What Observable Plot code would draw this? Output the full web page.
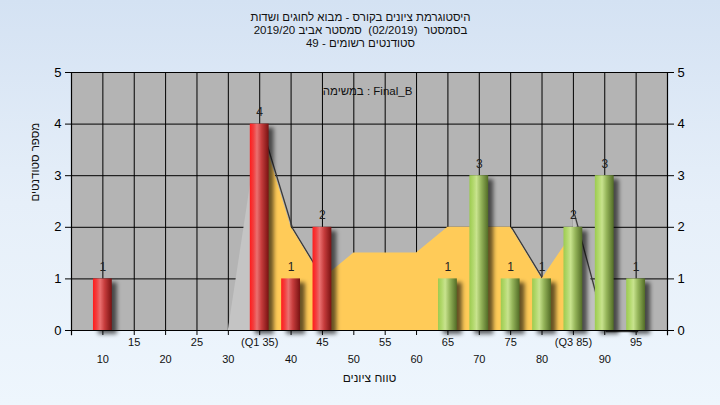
<!DOCTYPE html>
<html>
<head>
<meta charset="utf-8">
<script src="https://cdn.jsdelivr.net/npm/d3@7"></script>
<script src="https://cdn.jsdelivr.net/npm/@observablehq/plot@0.6"></script>
<style>
  html, body { margin: 0; padding: 0; }
  body { width: 720px; height: 405px; overflow: hidden;
         background: linear-gradient(to bottom, #d4e2f3 0%, #e6eff9 50%, #eef6fd 100%); }
  #chart svg { display: block; }
</style>
</head>
<body>
<div id="chart"></div>
<script>
// ---- data ----
const titleLines = [
  "היסטוגרמת ציונים בקורס - מבוא לחוגים ושדות",
  "בסמסטר  (02/2019)  סמסטר אביב 2019/20",
  "סטודנטים רשומים - 49"
];
const legendText = "במשימה : Final_B";
const yTitle = "מספר סטודנטים";
const xTitle = "טווח ציונים";

const binCenters = [10, 35, 40, 45, 65, 70, 75, 80, 85, 90, 95];
const binCounts  = [1, 4, 1, 2, 1, 3, 1, 1, 2, 3, 1];
const binTone    = ["red","red","red","red","green","green","green","green","green","green","green"];

// smoothed distribution outline (area), split into lower tail / inter-quartile / upper tail
const lowTailX = [30, 35];
const lowTailY = [0, 4];
const midX = [35, 40, 45, 50, 55, 60, 65, 70, 75, 80, 85];
const midY = [4, 2, 1, 1.5, 1.5, 1.5, 2, 2, 2, 1, 1.9];
const highTailX = [85, 90, 95];
const highTailY = [2.25, 0, 0];

const xTickMarks = d3.range(5, 101, 5);
const xTickValues = [10,15,20,25,30,35,40,45,50,55,60,65,70,75,80,85,90,95];
const xTickLabels = ["10","15","20","25","30","(Q1 35)","40","45","50","55","60","65","70","75","80","(Q3 85)","90","95"];
const yTicks = [0, 1, 2, 3, 4, 5];

// ---- tables built from the arrays ----
const bars = binCenters.map((b, i) => ({bin: b, count: binCounts[i], tone: binTone[i]}));
const lowTail = lowTailX.map((x, i) => ({x, y: lowTailY[i]}));
const mid = midX.map((x, i) => ({x, y: midY[i]}));
const highTail = highTailX.map((x, i) => ({x, y: highTailY[i]}));
const xLabels = xTickValues.map((v, i) => ({v, label: xTickLabels[i], row: i % 2 === 0 ? "low" : "up"}));
const halfBar = 1.5;

const font = "'Liberation Sans', Arial, sans-serif";

const chart = Plot.plot({
  width: 720,
  height: 405,
  marginLeft: 71,
  marginRight: 53,
  marginTop: 72,
  marginBottom: 75,
  style: {background: "transparent", color: "black", fontFamily: font, fontSize: "13px"},
  x: {domain: [5, 100], ticks: xTickMarks, tickFormat: () => "", tickSize: 5, label: null},
  y: {domain: [0, 5], ticks: yTicks, tickFormat: d => String(d), tickSize: 6, tickPadding: 4, label: null, axis: "both"},
  marks: [
    Plot.frame({fill: "#b4b4b4", stroke: "none"}),
    // grid
    Plot.ruleX(xTickValues, {stroke: "black", strokeWidth: 1}),
    Plot.ruleY(yTicks.slice(1), {stroke: "black", strokeWidth: 1}),
    // area edge shadows
    Plot.lineY(mid, {x: "x", y: "y", stroke: "#3a3a3a", strokeWidth: 1.3, dx: 1.5, dy: 1}),
    Plot.lineY(highTail, {x: "x", y: "y", stroke: "#3a3a3a", strokeWidth: 1.3, dx: 1.5, dy: 1}),
    // areas
    Plot.areaY(lowTail, {x: "x", y: "y", fill: "#c4c4c4"}),
    Plot.areaY(highTail, {x: "x", y: "y", fill: "#c1c1c1"}),
    Plot.areaY(mid, {x: "x", y: "y", fill: "#ffcb58"}),
    // axis lines
    Plot.ruleY([0], {stroke: "black", strokeWidth: 1.2}),
    Plot.ruleX([5, 100], {y1: -0.1, y2: 5, stroke: "black", strokeWidth: 1.2}),
    // bar shadows
    Plot.rectY(bars, {x1: d => d.bin - halfBar, x2: d => d.bin + halfBar, y: "count",
      dx: 5, dy: 4, fill: "#000", fillOpacity: 0.6, imageFilter: "blur(2px)"}),
    // bars
    Plot.rectY(bars.filter(d => d.tone === "red"), {x1: d => d.bin - halfBar, x2: d => d.bin + halfBar, y: "count", fill: "url(#gradRed)"}),
    Plot.rectY(bars.filter(d => d.tone === "green"), {x1: d => d.bin - halfBar, x2: d => d.bin + halfBar, y: "count", fill: "url(#gradGreen)"}),
    // value labels
    Plot.text(bars, {x: "bin", y: "count", text: d => String(d.count), dy: -12, fontSize: 12, fill: "#222"}),
    // x tick labels (two rows)
    Plot.text(xLabels.filter(d => d.row === "up"), {x: "v", text: "label", frameAnchor: "bottom", dy: 15, fontSize: 11, fill: "#111"}),
    Plot.text(xLabels.filter(d => d.row === "low"), {x: "v", text: "label", frameAnchor: "bottom", dy: 32, fontSize: 11, fill: "#111"}),
    // titles
    Plot.text([titleLines.join("\n")], {frameAnchor: "top", dy: -61, lineAnchor: "top", lineHeight: 1.15, fontSize: 11.5, fill: "#111", dx: -9}),
    Plot.text([legendText], {frameAnchor: "top", dy: 14, fontSize: 11.5, fill: "#111", dx: -2}),
    Plot.text([yTitle], {frameAnchor: "left", rotate: -90, dx: -36, fontSize: 11.5, fill: "#111"}),
    Plot.text([xTitle], {frameAnchor: "bottom", dy: 51, fontSize: 12, fill: "#111"})
  ]
});

// gradients and blur filter
const svg = d3.select(chart.tagName === "svg" ? chart : chart.querySelector("svg"));
const defs = svg.insert("defs", ":first-child");
function grad(id, stops) {
  const g = defs.append("linearGradient").attr("id", id)
    .attr("x1", "0").attr("y1", "0").attr("x2", "1").attr("y2", "0");
  stops.forEach(([o, c]) => g.append("stop").attr("offset", o).attr("stop-color", c));
}
grad("gradRed", [[0, "#ff1c1c"], [0.2, "#f24040"], [0.38, "#ea7070"], [0.62, "#c63c3c"], [1, "#781212"]]);
grad("gradGreen", [[0, "#9ccb50"], [0.2, "#b2d86c"], [0.38, "#c8e38e"], [0.62, "#95b55a"], [1, "#526c26"]]);
const f = defs.append("filter").attr("id", "shadowBlur").attr("x", "-50%").attr("y", "-50%").attr("width", "200%").attr("height", "200%");
f.append("feGaussianBlur").attr("stdDeviation", 2);
const rectGroups = svg.selectAll("g[aria-label='rect']").nodes();
if (rectGroups.length) d3.select(rectGroups[0]).attr("filter", "url(#shadowBlur)");

document.getElementById("chart").appendChild(chart);
</script>
</body>
</html>
